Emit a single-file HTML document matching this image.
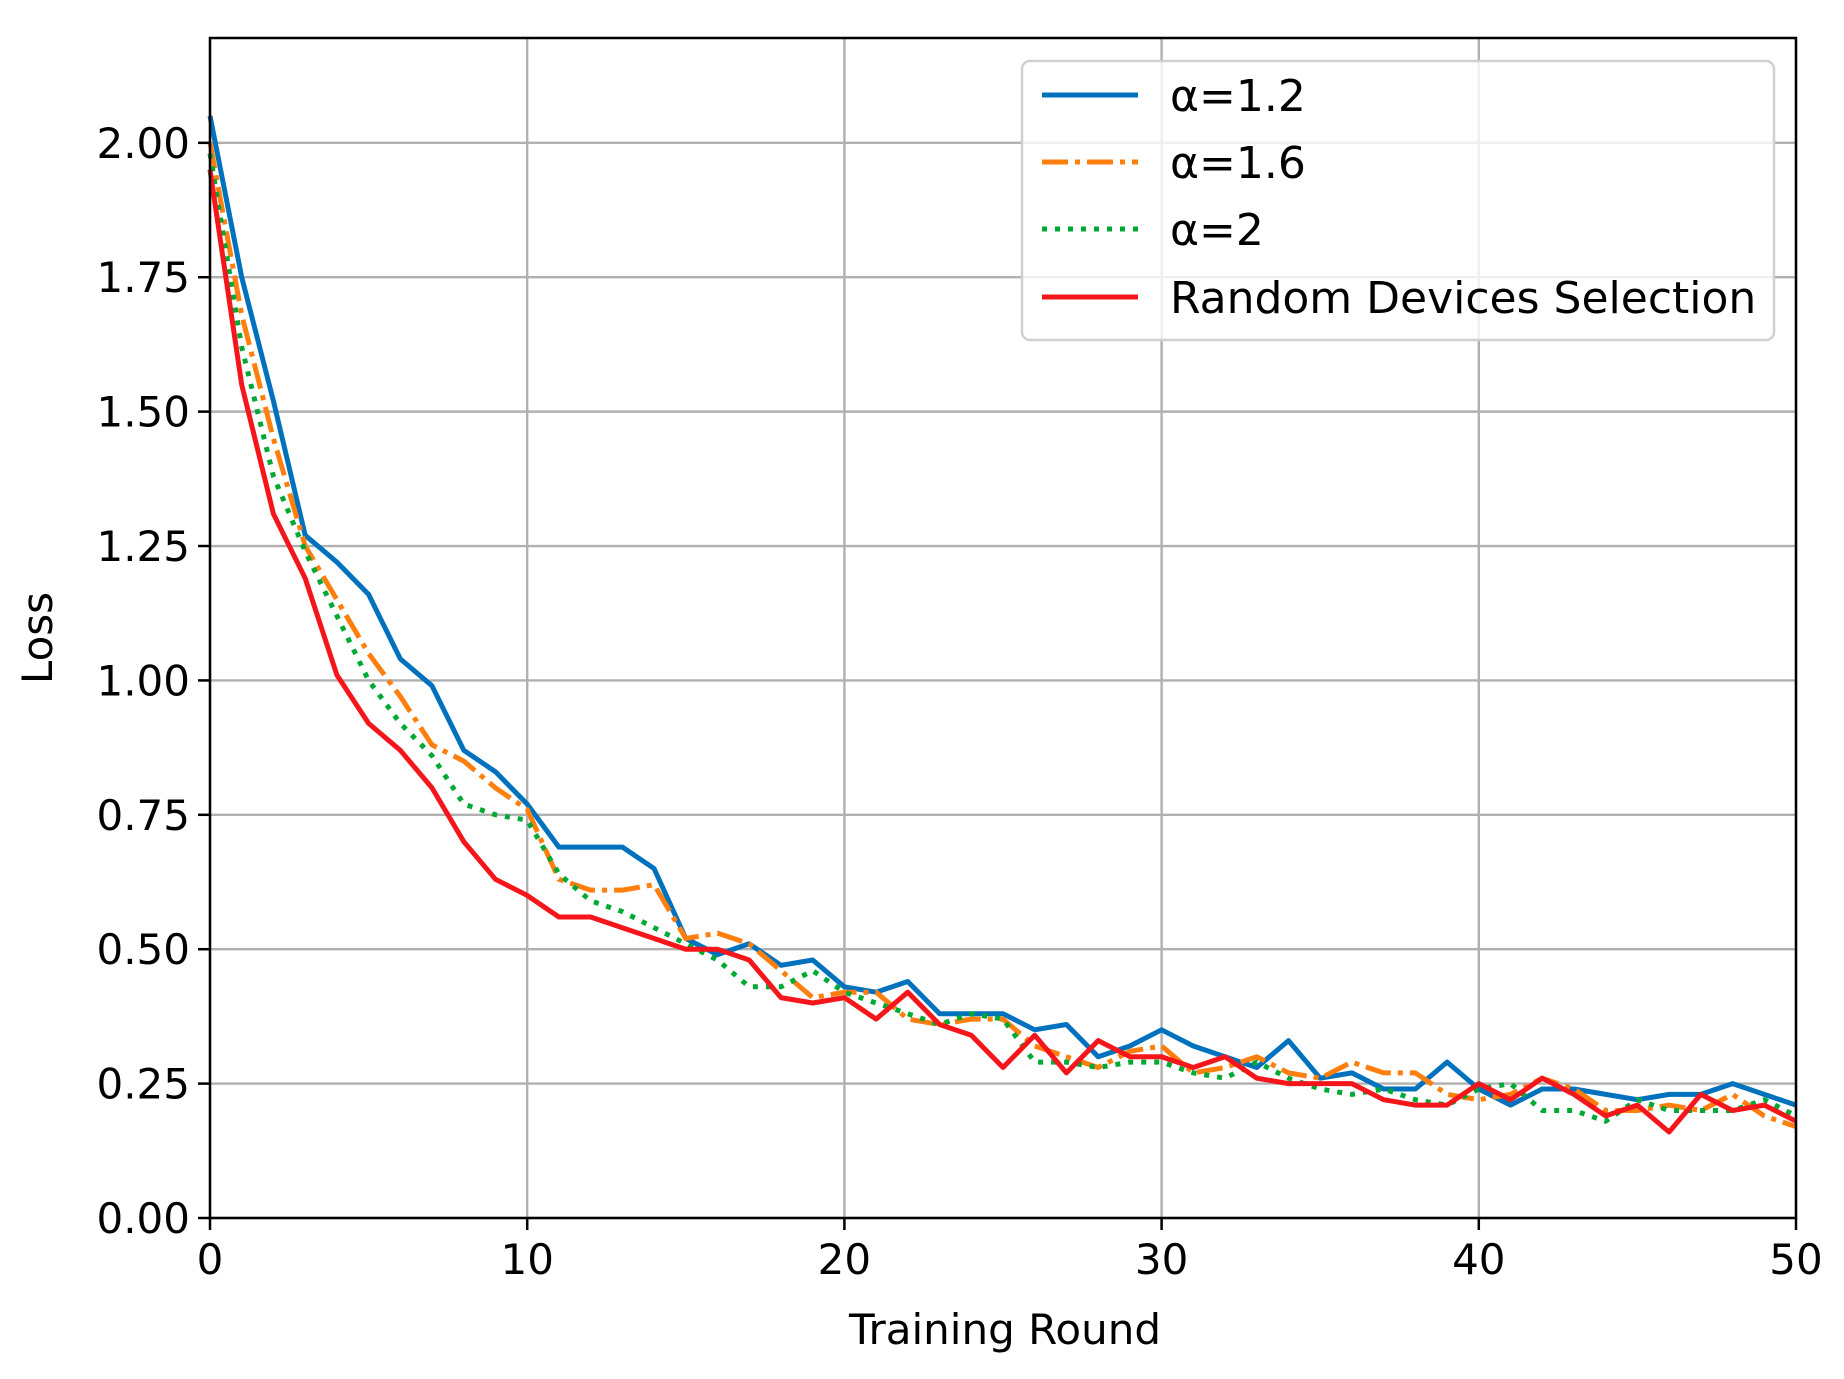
<!DOCTYPE html>
<html><head><meta charset="utf-8"><style>
html,body{margin:0;padding:0;background:#fff;}
svg{display:block;font-family:"DejaVu Sans","Liberation Sans",sans-serif;}
</style></head><body>
<svg id="chart" width="1844" height="1379" viewBox="0 0 1844 1379" xmlns="http://www.w3.org/2000/svg">
<rect width="1844" height="1379" fill="#fff"/>
<g id="grid"></g>
<g id="series"></g>
<rect x="210" y="38" width="1586" height="1180" fill="none" stroke="#000" stroke-width="2.5"/>
<g id="ticks"></g>
<text x="0" y="0" transform="translate(52,638) rotate(-90)" text-anchor="middle" font-size="42" fill="#000">Loss</text>
<text x="1005" y="1344" text-anchor="middle" font-size="42" fill="#000">Training Round</text>
<g id="legend"></g>
</svg>
<script>
const rounds = Array.from({length:51},(_,i)=>i);
const alpha12 = [2.05,1.75,1.52,1.27,1.22,1.16,1.04,0.99,0.87,0.83,0.77,0.69,0.69,0.69,0.65,0.52,0.49,0.51,0.47,0.48,0.43,0.42,0.44,0.38,0.38,0.38,0.35,0.36,0.30,0.32,0.35,0.32,0.30,0.28,0.33,0.26,0.27,0.24,0.24,0.29,0.24,0.21,0.24,0.24,0.23,0.22,0.23,0.23,0.25,0.23,0.21];
const alpha16 = [2.00,1.68,1.45,1.25,1.15,1.05,0.97,0.88,0.85,0.80,0.76,0.63,0.61,0.61,0.62,0.52,0.53,0.51,0.46,0.41,0.42,0.42,0.37,0.36,0.37,0.37,0.32,0.30,0.28,0.31,0.32,0.27,0.28,0.30,0.27,0.26,0.29,0.27,0.27,0.23,0.22,0.23,0.26,0.24,0.20,0.20,0.21,0.20,0.23,0.19,0.17];
const alpha2 = [1.98,1.62,1.38,1.24,1.12,1.00,0.92,0.86,0.77,0.75,0.74,0.64,0.59,0.57,0.54,0.51,0.48,0.43,0.43,0.46,0.42,0.40,0.38,0.36,0.38,0.37,0.29,0.29,0.28,0.29,0.29,0.27,0.26,0.29,0.26,0.24,0.23,0.24,0.22,0.21,0.24,0.25,0.20,0.20,0.18,0.22,0.20,0.20,0.20,0.22,0.19];
const randomSel = [1.95,1.55,1.31,1.19,1.01,0.92,0.87,0.80,0.70,0.63,0.60,0.56,0.56,0.54,0.52,0.50,0.50,0.48,0.41,0.40,0.41,0.37,0.42,0.36,0.34,0.28,0.34,0.27,0.33,0.30,0.30,0.28,0.30,0.26,0.25,0.25,0.25,0.22,0.21,0.21,0.25,0.22,0.26,0.23,0.19,0.21,0.16,0.23,0.20,0.21,0.18];
const xTicks = [0,10,20,30,40,50];
const yTicks = [0,0.25,0.5,0.75,1.0,1.25,1.5,1.75,2.0];
const yTickLabels = ["0.00","0.25","0.50","0.75","1.00","1.25","1.50","1.75","2.00"];
const seriesNames = ["α=1.2","α=1.6","α=2","Random Devices Selection"];

const NS="http://www.w3.org/2000/svg";
const X0=210,X1=1796,Y0=1218,YT=38;
const xs=v=>X0+(v-0)/(50-0)*(X1-X0);
const ys=v=>Y0-v/2.195*(Y0-YT);
function mk(tag,attrs,parent){const e=document.createElementNS(NS,tag);for(const k in attrs)e.setAttribute(k,attrs[k]);parent.appendChild(e);return e;}
const grid=document.getElementById('grid'),ticks=document.getElementById('ticks'),ser=document.getElementById('series'),leg=document.getElementById('legend');
xTicks.forEach(t=>{
  const g=mk('line',{x1:xs(t),x2:xs(t),y1:YT,y2:Y0,stroke:'#b0b0b0','stroke-width':2.4},grid);
  
  
  const tk=mk('line',{x1:xs(t),x2:xs(t),y1:Y0,y2:Y0+12,stroke:'#000','stroke-width':2.5},ticks);
  
  
  const tx=mk('text',{x:xs(t),y:Y0+56,'text-anchor':'middle','font-size':42,fill:'#000'},ticks);
  tx.textContent=String(t);
  
  
});
yTicks.forEach((t,i)=>{
  const g=mk('line',{x1:X0,x2:X1,y1:ys(t),y2:ys(t),stroke:'#b0b0b0','stroke-width':2.4},grid);
  
  
  const tk=mk('line',{x1:X0-12,x2:X0,y1:ys(t),y2:ys(t),stroke:'#000','stroke-width':2.5},ticks);
  
  
  const tx=mk('text',{x:X0-20,y:ys(t)+15,'text-anchor':'end','font-size':42,fill:'#000'},ticks);
  tx.textContent=yTickLabels[i];
  
  
});
const styles=[
  {d:alpha12,c:'#0072BD',dash:'',name:'line-alpha-1-2'},
  {d:alpha16,c:'#FF7F0E',dash:'26 7 5 7',name:'line-alpha-1-6'},
  {d:alpha2,c:'#00A933',dash:'5 8',name:'line-alpha-2'},
  {d:randomSel,c:'#F5161C',dash:'',name:'line-random-selection'}
];
styles.forEach(s=>{
  const pts=rounds.map((r,i)=>xs(r).toFixed(1)+','+ys(s.d[i]).toFixed(1)).join(' ');
  const p=mk('polyline',{points:pts,fill:'none',stroke:s.c,'stroke-width':5,'stroke-linejoin':'round'},ser);
  if(s.dash)p.setAttribute('stroke-dasharray',s.dash);
  
  
});
const box=mk('rect',{x:1022,y:61,width:752,height:279,rx:8,fill:'#fff','fill-opacity':0.8,stroke:'#d0d0d0','stroke-width':2.5},leg);


const rowsY=[95,162,229,297];
styles.forEach((s,i)=>{
  const l=mk('line',{x1:1042,x2:1138,y1:rowsY[i],y2:rowsY[i],stroke:s.c,'stroke-width':5},leg);
  if(s.dash)l.setAttribute('stroke-dasharray',s.dash);
  
  
  const t=mk('text',{x:1170,y:rowsY[i]+16,'font-size':44,fill:'#000'},leg);
  t.textContent=seriesNames[i];
  
  
});
</script>
</body></html>
